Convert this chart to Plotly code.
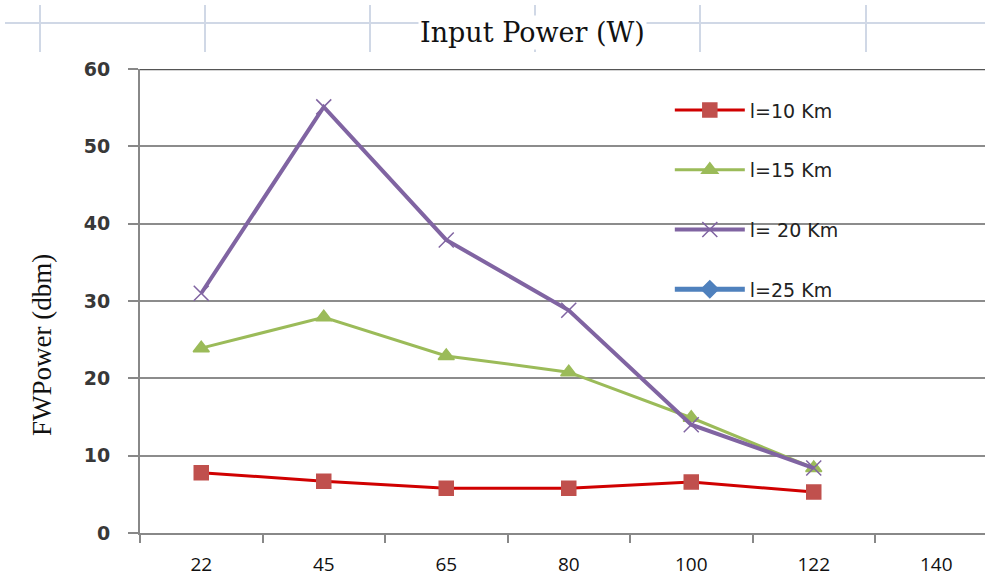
import plotly.graph_objects as go

categories = ["22", "45", "65", "80", "100", "122", "140"]
series_names = ["l=10 Km", "l=15 Km", "l= 20 Km", "l=25 Km"]
l10 = [7.8, 6.7, 5.8, 5.8, 6.6, 5.3]
l15 = [23.9, 27.9, 22.9, 20.8, 14.9, 8.4]
l20 = [31.0, 55.1, 37.9, 28.8, 14.0, 8.4]
l25 = [None, None, None, None, None, None]
y_ticks = [0, 10, 20, 30, 40, 50, 60]

colors = ["#c0504d", "#9bbb59", "#8064a2", "#4f81bd"]
line_colors = ["#d00000", "#9bbb59", "#8064a2", "#4f81bd"]
symbols = ["square", "triangle-up", "x-thin", "diamond"]
widths = [3, 3, 4, 5]
msizes = [14, 14, 15, 13]

fig = go.Figure()
for i, (name, ys) in enumerate(zip(series_names, [l10, l15, l20, l25])):
    fig.add_trace(go.Scatter(
        x=categories[:6], y=ys, name=name, mode="lines+markers",
        legendgroup=name,
        line=dict(color=line_colors[i], width=widths[i]),
        marker=dict(symbol=symbols[i], size=msizes[i], color=colors[i],
                    line=dict(color=colors[i], width=1.5)),
        cliponaxis=False,
    ))

fig.update_layout(
    width=985, height=583,
    margin=dict(l=140, r=0, t=69, b=50),
    paper_bgcolor="white", plot_bgcolor="white",
    showlegend=True,
    legend=dict(x=0.627, y=0.952, xanchor="left", yanchor="top",
                bgcolor="rgba(0,0,0,0)", tracegroupgap=32,
                font=dict(family="DejaVu Sans", size=19, color="#222"),
                itemwidth=70),
    xaxis=dict(type="category", categoryorder="array", categoryarray=categories,
               range=[-0.5, 6.398], tickson="boundaries",
               tickvals=categories, ticktext=categories,
               ticks="outside", ticklen=8, tickcolor="#888", tickwidth=2,
               ticklabelstandoff=13,
               showline=True, linecolor="#888", linewidth=2,
               showgrid=False, zeroline=False,
               tickfont=dict(family="Open Sans", size=19, color="#111")),
    yaxis=dict(range=[0, 60], tickvals=y_ticks,
               ticks="outside", ticklen=10, tickcolor="#888", tickwidth=2,
               ticklabelstandoff=14,
               showline=True, linecolor="#888", linewidth=2,
               showgrid=True, gridcolor="#8c8c8c", gridwidth=2, zeroline=False,
               tickfont=dict(family="DejaVu Sans", size=19, color="#383838", weight="bold")),
)

# darker top gridline
fig.add_shape(type="line", xref="paper", yref="y", x0=0, x1=1, y0=60, y1=60,
              line=dict(color="#555", width=2.5))

def py(ypix):
    return (533 - ypix) / 464.0
def px(xpix):
    return (xpix - 140) / 845.0

# top spreadsheet-like cell lines
cell_color = "#d0d8e6"
fig.add_shape(type="line", xref="paper", yref="paper",
              x0=px(5), x1=px(985), y0=py(23), y1=py(23),
              line=dict(color=cell_color, width=2))
for xv in [40, 205, 370, 535, 700, 866]:
    fig.add_shape(type="line", xref="paper", yref="paper",
                  x0=px(xv), x1=px(xv), y0=py(5), y1=py(52),
                  line=dict(color=cell_color, width=2))

fig.add_annotation(text="Input Power (W)", xref="paper", yref="paper",
                   x=px(532), y=py(33), xanchor="center", yanchor="middle",
                   showarrow=False,
                   font=dict(family="DejaVu Serif", size=27, color="#111"),
                   bgcolor="white")
fig.add_annotation(text="FWPower (dbm)", xref="paper", yref="paper",
                   x=px(42), y=py(345), xanchor="center", yanchor="middle",
                   textangle=-90, showarrow=False,
                   font=dict(family="Liberation Serif", size=27, color="#111"))

fig.write_html("out.html")
